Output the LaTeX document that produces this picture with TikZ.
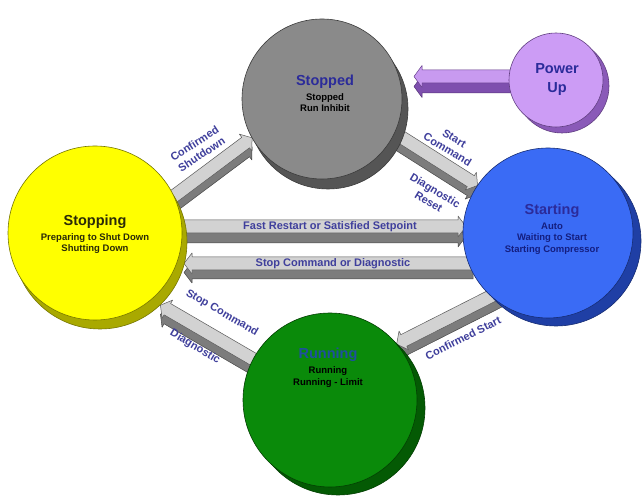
\documentclass[tikz,border=0pt]{standalone}
\usepackage{fontspec}
\setmainfont{Liberation Sans}
\usetikzlibrary{calc,shadows}
\definecolor{stoppedface}{HTML}{8A8A8A}
\definecolor{stoppedrim}{HTML}{555555}
\definecolor{powerface}{HTML}{CC9CF5}
\definecolor{powerrim}{HTML}{8A5AB8}
\definecolor{startface}{HTML}{3A6BF5}
\definecolor{startrim}{HTML}{1F3FA5}
\definecolor{stopface}{HTML}{FFFF00}
\definecolor{stoprim}{HTML}{A9A900}
\definecolor{runface}{HTML}{0A8A0A}
\definecolor{runrim}{HTML}{045A04}
\definecolor{barface}{HTML}{D2D2D2}
\definecolor{barside}{HTML}{7C7C7C}
\definecolor{baredge}{HTML}{5A5A5A}
\definecolor{pbarface}{HTML}{C89AF0}
\definecolor{pbarside}{HTML}{7E4FAE}
\definecolor{lblblue}{HTML}{3F3F9C}
\definecolor{ttlblue}{HTML}{2B2B9A}
\definecolor{navy}{HTML}{141E80}
\definecolor{runblue}{HTML}{1F4F9F}
\definecolor{darkolive}{HTML}{2A2A08}
\newcommand\ttlfont{\fontsize{14.5}{17}\selectfont\bfseries}
\newcommand\mysubfont{\fontsize{9.5}{11.5}\selectfont\bfseries}
\newcommand\lblfont{\fontsize{11}{13}\selectfont\bfseries}
\def\bah{6.5pt}
\def\baH{10pt}
\def\bal{8pt}
\def\bashift{-10pt}
% #1 kind, #2 from, #3 to, #4 tail pushed back into source, #5 tip pulled back toward source
\newcommand\blockarrow[5]{%
  \coordinate (baA) at (#2);
  \coordinate (baB) at (#3);
  \coordinate (baS) at ($(baA)!-#4!(baB)$);
  \coordinate (baT) at ($(baB)!#5!(baA)$);
  \coordinate (baC) at ($(baT)!\bal!(baS)$);
  \path[#1 side] ($(baS)!\bah!90:(baT)$) -- ($(baC)!\bah!90:(baT)$) -- ($(baC)!\baH!90:(baT)$) -- (baT) -- ($(baC)!\baH!-90:(baT)$) -- ($(baC)!\bah!-90:(baT)$) -- ($(baS)!\bah!-90:(baT)$) -- cycle;
  \path[#1 face] ($(baS)!\bah!90:(baT)$) -- ($(baC)!\bah!90:(baT)$) -- ($(baC)!\baH!90:(baT)$) -- (baT) -- ($(baC)!\baH!-90:(baT)$) -- ($(baC)!\bah!-90:(baT)$) -- ($(baS)!\bah!-90:(baT)$) -- cycle;
}
\pgfdeclarelayer{bglayer}
\pgfdeclarelayer{arrowlayer}
\pgfsetlayers{bglayer,arrowlayer,main}
\tikzset{
  sphere/.style={circle, inner sep=0pt, outer sep=0pt, minimum size=#1, line width=0.6pt},
  title/.style={font=\ttlfont, inner sep=0pt, align=center},
  subtitle/.style={font=\mysubfont, inner sep=0pt, align=center},
  edgelabel/.style={font=\lblfont, text=lblblue, inner sep=0pt, align=center},
  gray face/.style={fill=barface, draw=baredge, line width=0.5pt, line join=round},
  gray side/.style={fill=barside, draw=baredge!80!black, line width=0.5pt, line join=round, transform canvas={yshift=\bashift}},
  purple face/.style={fill=pbarface, draw=pbarside!80!black, line width=0.5pt, line join=round},
  purple side/.style={fill=pbarside, draw=pbarside!70!black, line width=0.5pt, line join=round, transform canvas={yshift=\bashift}},
}
\begin{document}
\begin{tikzpicture}[x=1pt,y=1pt]
\begin{pgfonlayer}{bglayer}
\fill[white] (0,0) rectangle (642,497);
\end{pgfonlayer}
\useasboundingbox (0,0) rectangle (642,497);

% states
\node[sphere=160pt, fill=stoppedface, draw=stoppedrim!70!black,
  general shadow={fill=stoppedrim, draw=stoppedrim!70!black, shadow xshift=6pt, shadow yshift=-10pt}] (stopped) at (322,398) {};
\node[sphere=94pt, fill=powerface, draw=powerrim!70!black,
  general shadow={fill=powerrim, draw=powerrim!70!black, shadow xshift=6pt, shadow yshift=-6pt}] (powerup) at (556,417) {};
\node[sphere=170pt, fill=startface, draw=startrim!70!black,
  general shadow={fill=startrim, draw=startrim!70!black, shadow xshift=8pt, shadow yshift=-8pt}] (starting) at (548,264) {};
\node[sphere=174pt, fill=stopface, draw=stoprim!70!black,
  general shadow={fill=stoprim, draw=stoprim!70!black, shadow xshift=5pt, shadow yshift=-9pt}] (stopping) at (95,264) {};
\node[sphere=174pt, fill=runface, draw=runrim!70!black,
  general shadow={fill=runrim, draw=runrim!70!black, shadow xshift=8pt, shadow yshift=-8pt}] (running) at (330,97) {};

% state texts
\node[title, text=ttlblue] (stoppedT) at (325,415) {Stopped};
\node[subtitle, text=black] (stoppedS) at (325,394.5) {Stopped\\Run Inhibit};
\node[title, text=ttlblue, font=\fontsize{14.5}{19}\selectfont\bfseries] (powerT) at (557,417.5) {Power\\Up};
\node[title, text=darkolive] (stoppingT) at (95,275) {Stopping};
\node[subtitle, text=darkolive] (stoppingS) at (95,253.5) {Preparing to Shut Down\\Shutting Down};
\node[title, text=ttlblue] (startingT) at (552,286) {Starting};
\node[subtitle, text=navy] (startingS) at (552,258.5) {Auto\\Waiting to Start\\Starting Compressor};
\node[title, text=runblue] (runningT) at (328,142) {Running};
\node[subtitle, text=black] (runningS) at (328,120) {Running\\Running - Limit};

% transitions
\begin{pgfonlayer}{arrowlayer}
\def\bah{6.5pt}\def\baH{11pt}\def\bashift{-10pt}
\blockarrow{purple}{[yshift=3.5pt]powerup.west}{[xshift=12pt,yshift=22.5pt]stopped.east}{10pt}{0pt}
\def\bah{6.5pt}\def\baH{10.5pt}\def\bashift{-9pt}
\blockarrow{gray}{stopping.25}{stopped.209}{12pt}{0pt}
\blockarrow{gray}{stopped.-25}{starting.146}{12pt}{0pt}
\def\bashift{-10pt}
\blockarrow{gray}{[yshift=6.5pt]stopping.east}{[xshift=3pt,yshift=6.5pt]starting.west}{10pt}{0pt}
\def\bashift{-9pt}
\blockarrow{gray}{[yshift=-30.5pt]starting.west}{[xshift=2pt,yshift=-30.5pt]stopping.east}{10pt}{0pt}
\blockarrow{gray}{starting.228}{running.40}{12pt}{0pt}
\blockarrow{gray}{running.152}{stopping.-50}{12pt}{11pt}
\end{pgfonlayer}

% transition labels
\node[edgelabel, rotate=33] (lblShut) at (198,348) {Confirmed\\Shutdown};
\node[edgelabel, rotate=-31] (lblStartCmd) at (451,353) {Start\\Command};
\node[edgelabel, rotate=-31] (lblDiagReset) at (432,301) {Diagnostic\\Reset};
\node[edgelabel] (lblFast) at (330,270) {Fast Restart or Satisfied Setpoint};
\node[edgelabel] (lblStopDiag) at (333,233) {Stop Command or Diagnostic};
\node[edgelabel, rotate=27] (lblConfStart) at (463,159) {Confirmed Start};
\node[edgelabel, rotate=-30] (lblStopCmd) at (222,184) {Stop Command};
\node[edgelabel, rotate=-31] (lblDiag) at (195,150) {Diagnostic};
\end{tikzpicture}
\end{document}
